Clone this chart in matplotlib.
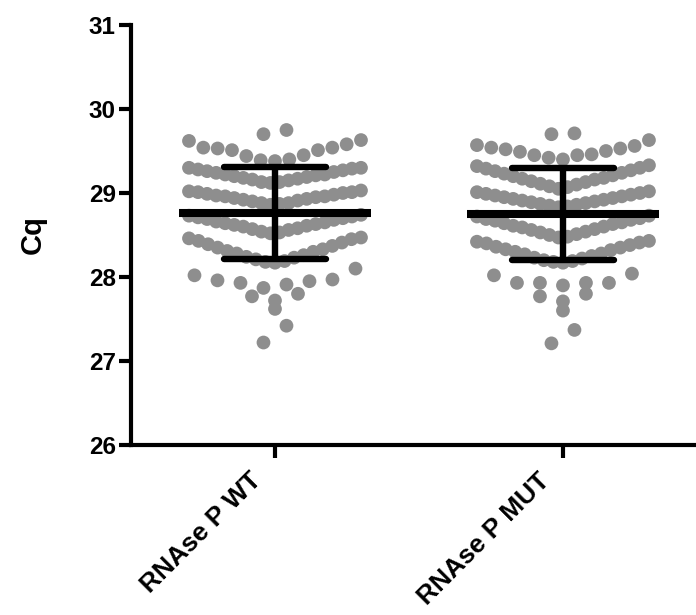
import numpy as np
import matplotlib
matplotlib.use("Agg")
import matplotlib.pyplot as plt
from matplotlib.transforms import ScaledTranslation

plt.rcParams['font.family'] = ['Liberation Sans', 'DejaVu Sans']

categories = ["RNAse P WT", "RNAse P MUT"]
y_ticks = [26, 27, 28, 29, 30, 31]
y_label = "Cq"

# Cq values, grouped in the rows of the swarm as they appear in the picture
wt_cq = [
    [29.70, 29.75],
    [29.38, 29.39, 29.40, 29.44, 29.45, 29.51, 29.51, 29.53, 29.54, 29.54, 29.58, 29.62, 29.63],
    [29.12, 29.13, 29.13, 29.15, 29.16, 29.17, 29.18, 29.19, 29.20, 29.21,
     29.22, 29.22, 29.24, 29.25, 29.26, 29.27, 29.28, 29.29, 29.30, 29.30],
    [28.86, 28.87, 28.88, 28.88, 28.90, 28.91, 28.92, 28.93, 28.94, 28.95,
     28.96, 28.96, 28.97, 28.98, 28.99, 29.00, 29.01, 29.01, 29.02, 29.03],
    [28.52, 28.53, 28.54, 28.56, 28.57, 28.58, 28.60, 28.61, 28.62, 28.63,
     28.64, 28.65, 28.66, 28.68, 28.69, 28.70, 28.71, 28.72, 28.73, 28.74],
    [28.17, 28.18, 28.19, 28.21, 28.23, 28.24, 28.26, 28.28, 28.30, 28.31,
     28.33, 28.35, 28.37, 28.39, 28.41, 28.43, 28.45, 28.46, 28.47],
    [27.87, 27.91, 27.93, 27.95, 27.96, 27.97, 28.02, 28.10],
    [27.72, 27.77, 27.80],
    [27.62],
    [27.22, 27.42],
]

mut_cq = [
    [29.70, 29.71],
    [29.40, 29.42, 29.45, 29.45, 29.46, 29.49, 29.50, 29.52, 29.53, 29.54, 29.56, 29.57, 29.63],
    [29.05, 29.07, 29.08, 29.10, 29.11, 29.13, 29.14, 29.16, 29.17, 29.18,
     29.20, 29.21, 29.23, 29.24, 29.26, 29.27, 29.29, 29.30, 29.32, 29.33],
    [28.83, 28.84, 28.85, 28.86, 28.87, 28.88, 28.89, 28.90, 28.91, 28.92,
     28.93, 28.94, 28.95, 28.96, 28.97, 28.98, 28.99, 29.00, 29.01, 29.02],
    [28.47, 28.48, 28.50, 28.51, 28.53, 28.54, 28.56, 28.57, 28.59, 28.60,
     28.61, 28.63, 28.64, 28.65, 28.67, 28.68, 28.69, 28.70, 28.72, 28.73],
    [28.17, 28.18, 28.19, 28.20, 28.22, 28.23, 28.25, 28.27, 28.28, 28.30,
     28.32, 28.33, 28.35, 28.36, 28.38, 28.40, 28.41, 28.42, 28.43],
    [27.90, 27.93, 27.93, 27.93, 27.93, 28.02, 28.04],
    [27.71, 27.77, 27.80],
    [27.60],
    [27.21, 27.37],
]

groups = [wt_cq, mut_cq]

W, H, DPI = 696, 615, 100
fig = plt.figure(figsize=(W / DPI, H / DPI), dpi=DPI)
ax = fig.add_axes([131 / W, 1 - 445 / H, 1 - 131 / W, (445 - 25) / H])
ax.set_xlim(-0.5, 1.462)
ax.set_ylim(26, 31)

px_per_x = (1 - 131 / W) * W / (1.462 + 0.5)  # pixels per x data unit
max_step_px = 23.0
half_width_px = 86.0

dot_color = "#8e8e8e"
for gi, rows in enumerate(groups):
    xs, ys = [], []
    for row in rows:
        vals = sorted(row)
        n = len(vals)
        if n > 1:
            step = min(max_step_px, 2 * half_width_px / (n - 1)) / px_per_x
        else:
            step = 0.0
        slots = (np.arange(n) - (n - 1) / 2.0) * step
        order = sorted(range(n), key=lambda i: (abs(slots[i]), slots[i]))
        for v, si in zip(vals, order):
            xs.append(gi + slots[si])
            ys.append(v)
    ax.scatter(xs, ys, s=98, color=dot_color, edgecolors="none", zorder=2)

    allv = np.concatenate([np.array(r) for r in rows])
    m = allv.mean()
    sd = allv.std(ddof=1)
    mean_half = 96 / px_per_x
    cap_half = 51 / px_per_x
    ax.plot([gi - mean_half, gi + mean_half], [m, m], color="black", lw=5.8,
            solid_capstyle="butt", zorder=3)
    ax.plot([gi, gi], [m - sd, m + sd], color="black", lw=4.6,
            solid_capstyle="butt", zorder=3)
    for yv in (m - sd, m + sd):
        ax.plot([gi - cap_half, gi + cap_half], [yv, yv], color="black", lw=4.6,
                solid_capstyle="round", zorder=3)

for side in ("top", "right"):
    ax.spines[side].set_visible(False)
for side in ("left", "bottom"):
    ax.spines[side].set_linewidth(3.0)
    ax.spines[side].set_capstyle("projecting")

ax.set_yticks(y_ticks)
ax.set_yticklabels([str(t) for t in y_ticks], fontsize=17.5, fontweight="bold")
ax.set_xticks([0, 1])
ax.set_xticklabels(categories, fontsize=19, fontweight="bold",
                   rotation=45, ha="right", va="center", rotation_mode="anchor")
ax.tick_params(axis="both", width=3.0, length=9, pad=2)
ax.tick_params(axis="x", pad=6)
offset = ScaledTranslation(-17 / DPI, -11 / DPI, fig.dpi_scale_trans)
for lab in ax.get_xticklabels():
    lab.set_transform(lab.get_transform() + offset)

ax.set_ylabel(y_label, fontsize=21, fontweight="bold")
ax.yaxis.set_label_coords((47 - 131) / (W - 131), 0.5)

fig.savefig("out.png", dpi=DPI)
